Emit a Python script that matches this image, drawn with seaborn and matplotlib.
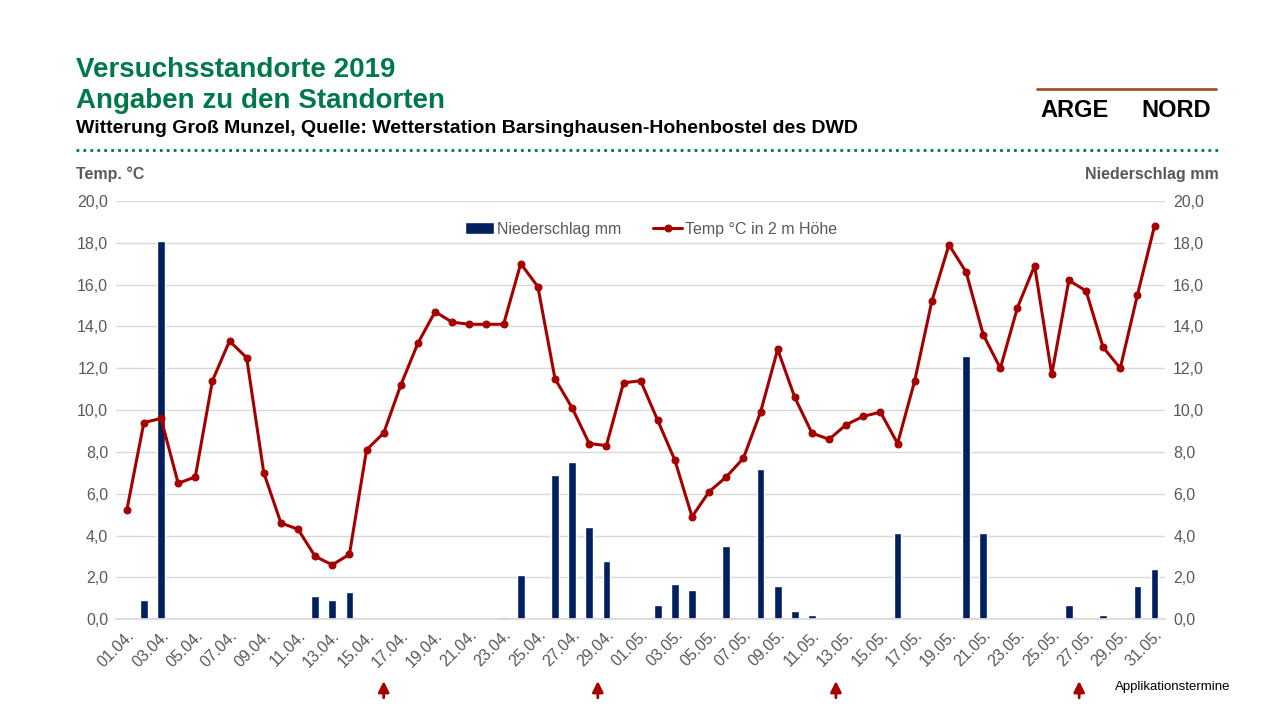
import matplotlib
matplotlib.use("Agg")
import matplotlib.pyplot as plt
import matplotlib.transforms as mtransforms
import seaborn as sns
import numpy as np

sns.set_theme(style="white")
plt.rcParams["font.family"] = ["Liberation Sans", "DejaVu Sans"]

# -----------------------------
# Data
# -----------------------------
dates = [f"{d:02d}.04." for d in range(1, 31)] + [f"{d:02d}.05." for d in range(1, 32)]

temp = [5.2, 9.4, 9.6, 6.5, 6.8, 11.4, 13.3, 12.5, 7.0, 4.6,
        4.3, 3.0, 2.6, 3.1, 8.1, 8.9, 11.2, 13.2, 14.7, 14.2,
        14.1, 14.1, 14.1, 17.0, 15.9, 11.5, 10.1, 8.4, 8.3, 11.3,
        11.4, 9.5, 7.6, 4.9, 6.1, 6.8, 7.7, 9.9, 12.9, 10.6,
        8.9, 8.6, 9.3, 9.7, 9.9, 8.4, 11.4, 15.2, 17.9, 16.6,
        13.6, 12.0, 14.9, 16.9, 11.7, 16.2, 15.7, 13.0, 12.0, 15.5,
        18.8]

precip_days = {"02.04.": 0.9, "03.04.": 18.1, "12.04.": 1.1, "13.04.": 0.9,
               "14.04.": 1.3, "23.04.": 0.1, "24.04.": 2.1, "26.04.": 6.9,
               "27.04.": 7.5, "28.04.": 4.4, "29.04.": 2.8, "02.05.": 0.7,
               "03.05.": 1.7, "04.05.": 1.4, "06.05.": 3.5, "08.05.": 7.2,
               "09.05.": 1.6, "10.05.": 0.4, "11.05.": 0.2, "16.05.": 4.1,
               "20.05.": 12.6, "21.05.": 4.1, "26.05.": 0.7, "28.05.": 0.2,
               "30.05.": 1.6, "31.05.": 2.4}
precip = [precip_days.get(d, 0.0) for d in dates]

# application dates (positions between days)
app_positions = [15, 27.5, 41.4, 55.6]

GREEN = "#00794A"
RED = "#A50000"
NAVY = "#002060"
GREY = "#595959"

# -----------------------------
# Figure
# -----------------------------
fig = plt.figure(figsize=(12.8, 7.2), dpi=100)
ax = fig.add_axes([0.091, 0.140, 0.819, 0.581])

x = np.arange(len(dates))
ax.bar(x, precip, width=0.45, color=NAVY, label="Niederschlag mm", zorder=2)
sns.lineplot(x=x, y=temp, ax=ax, color=RED, lw=2.2, marker="o", markersize=5,
             markeredgecolor=RED, label="Temp °C in 2 m Höhe", zorder=3)

ax.set_xlim(-0.6, len(dates) - 0.4)
ax.set_ylim(0, 20)
yt = np.arange(0, 21, 2)
ax.set_yticks(yt)
ax.set_yticklabels([f"{v:.1f}".replace(".", ",") for v in yt], color=GREY, fontsize=11.5)
ax.yaxis.grid(True, color="#D9D9D9", lw=1, zorder=0)
ax.set_xticks(x[::2])
ax.set_xticklabels(dates[::2], rotation=45, ha="right", rotation_mode="anchor",
                   color=GREY, fontsize=11.5)
ax.tick_params(axis="both", length=0, pad=6)
for s in ["top", "right", "left"]:
    ax.spines[s].set_visible(False)
ax.spines["bottom"].set_color("#D9D9D9")

ax2 = ax.twinx()
ax2.set_ylim(0, 20)
ax2.set_yticks(yt)
ax2.set_yticklabels([f"{v:.1f}".replace(".", ",") for v in yt], color=GREY, fontsize=11.5)
ax2.tick_params(axis="y", length=0, pad=6)
for s in ax2.spines.values():
    s.set_visible(False)

handles, labels = ax.get_legend_handles_labels()
order = [labels.index("Niederschlag mm"), labels.index("Temp °C in 2 m Höhe")]
ax.legend([handles[i] for i in order], [labels[i] for i in order],
          loc="upper center", bbox_to_anchor=(0.51, 0.985), ncol=2, frameon=False,
          fontsize=11.5, labelcolor=GREY, handlelength=1.8, handletextpad=0.2,
          columnspacing=2.0)

# arrows for application dates
trans = mtransforms.blended_transform_factory(ax.transData, fig.transFigure)
for p in app_positions:
    ax.annotate("", xy=(p, 0.058), xytext=(p, 0.027), xycoords=trans, textcoords=trans,
                arrowprops=dict(arrowstyle="-|>", color=RED, lw=2, mutation_scale=16),
                annotation_clip=False)
fig.text(0.871, 0.041, "Applikationstermine", fontsize=9.5, color="black")

# axis titles
fig.text(0.059, 0.752, "Temp. °C", fontsize=11.5, color=GREY, fontweight="bold")
fig.text(0.952, 0.752, "Niederschlag mm", fontsize=11.5, color=GREY, fontweight="bold", ha="right")

# header
fig.text(0.059, 0.893, "Versuchsstandorte 2019", fontsize=20, color=GREEN, fontweight="bold")
fig.text(0.059, 0.850, "Angaben zu den Standorten", fontsize=20, color=GREEN, fontweight="bold")
fig.text(0.059, 0.815, "Witterung Groß Munzel, Quelle: Wetterstation Barsinghausen-Hohenbostel des DWD",
         fontsize=14, color="black", fontweight="bold")
fig.add_artist(plt.Line2D([0.059, 0.953], [0.792, 0.792], transform=fig.transFigure,
                          color=GREEN, lw=2, ls=(0, (1, 1.5))))

# logo (text only)
fig.text(0.813, 0.838, "ARGE", fontsize=17, color="black", fontweight="bold")
fig.text(0.892, 0.838, "NORD", fontsize=17, color="black", fontweight="bold")
fig.add_artist(plt.Line2D([0.81, 0.95], [0.877, 0.877], transform=fig.transFigure,
                          color="#A0522D", lw=2))

fig.savefig("out.png", dpi=100, facecolor="white")
